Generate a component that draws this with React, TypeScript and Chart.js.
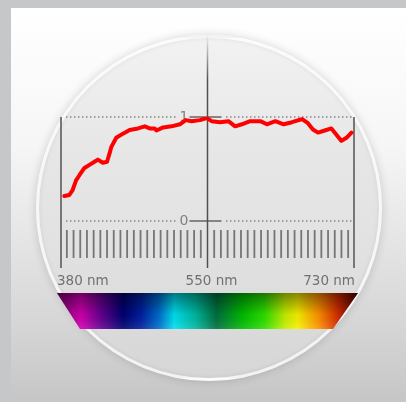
import React, { useEffect, useRef } from "react";
import { Chart, registerables } from "chart.js";

Chart.register(...registerables);

// wavelength (nm) and relative intensity
const wavelengths = [384, 390, 394, 398, 402, 408, 414, 420, 424, 430, 435, 438, 440, 446, 454, 462, 472, 480, 486, 492, 494, 502, 512, 522, 529, 536, 546, 554, 560, 570, 580, 588, 596, 606, 618, 626, 636, 646, 656, 668, 675, 681, 687, 695, 703, 709, 715, 721, 727];
const intensities = [0.24, 0.25, 0.3, 0.39, 0.44, 0.51, 0.54, 0.57, 0.59, 0.56, 0.57, 0.65, 0.71, 0.8, 0.84, 0.875, 0.89, 0.91, 0.89, 0.89, 0.87, 0.9, 0.91, 0.93, 0.97, 0.96, 0.97, 0.99, 0.96, 0.95, 0.96, 0.91, 0.93, 0.96, 0.96, 0.93, 0.96, 0.93, 0.95, 0.98, 0.94, 0.88, 0.85, 0.87, 0.89, 0.83, 0.77, 0.8, 0.85];
const xTickLabels = ["380 nm", "550 nm", "730 nm"];
const yTickValues = [0, 1];
const yTickLabels = ["0", "1"];
const scaleTickStep = 8;
const spectrumStops: [number, string][] = [
  [0, "#7a0070"], [0.08, "#d000b0"], [0.15, "#600090"], [0.22, "#000070"], [0.28, "#0020a0"],
  [0.34, "#0070d0"], [0.39, "#00e0f0"], [0.46, "#00b8a0"], [0.53, "#007040"], [0.62, "#00c000"],
  [0.69, "#30e000"], [0.76, "#c8f000"], [0.8, "#f8f000"], [0.87, "#ff9000"], [0.93, "#d83000"], [1, "#500000"],
];

const decorPlugin = {
  id: "decor",
  beforeDatasetsDraw(chart: any) {
    const { ctx, chartArea, scales } = chart;
    const xs = scales.x, ys = scales.y;
    const L = chartArea.left, R = chartArea.right, B = chartArea.bottom;
    const cx = xs.getPixelForValue((xs.min + xs.max) / 2);
    ctx.save();
    // spectrum bar
    const top = B + 25, bot = B + 61;
    const g = ctx.createLinearGradient(L - 4, 0, R + 4, 0);
    spectrumStops.forEach(([o, c]) => g.addColorStop(o, c));
    ctx.beginPath();
    ctx.moveTo(L - 4, top); ctx.lineTo(R + 4, top); ctx.lineTo(R - 21, bot); ctx.lineTo(L + 19, bot); ctx.closePath();
    ctx.fillStyle = g; ctx.fill();
    const vg = ctx.createLinearGradient(0, top, 0, bot);
    vg.addColorStop(0, "rgba(0,0,0,0.45)"); vg.addColorStop(0.6, "rgba(0,0,0,0.05)"); vg.addColorStop(1, "rgba(255,255,255,0.1)");
    ctx.fillStyle = vg; ctx.fill();
    // dotted lines + labels
    ctx.font = "14px 'DejaVu Sans', sans-serif";
    ctx.textAlign = "right"; ctx.textBaseline = "middle";
    yTickValues.forEach((v, i) => {
      const y = Math.round(ys.getPixelForValue(v));
      ctx.fillStyle = "#888";
      for (let x = L + 5; x <= R - 2; x += 4) {
        if (x > cx - 30 && x < cx + 16) continue;
        ctx.fillRect(x, y - 0.75, 1.5, 1.5);
      }
      ctx.fillStyle = "#808080";
      ctx.fillText(yTickLabels[i], cx - 19, y + 0.5);
      ctx.fillStyle = "#666";
      ctx.fillRect(cx - 18, y - 0.75, 32, 1.5);
    });
    // scale ticks
    ctx.fillStyle = "#757575";
    const mid = (xs.min + xs.max) / 2;
    for (let k = -21; k <= 21; k++) {
      if (k === 0) continue;
      const x = xs.getPixelForValue(mid + k * scaleTickStep);
      ctx.fillRect(x - 0.9, B - 38, 1.8, 28);
    }
    // side axes
    ctx.fillStyle = "#777";
    ctx.fillRect(L - 1, chartArea.top, 2, B - chartArea.top);
    ctx.fillRect(R - 1, chartArea.top, 2, B - chartArea.top);
    // center line
    const cg = ctx.createLinearGradient(0, 35, 0, 80);
    cg.addColorStop(0, "rgba(80,80,80,0)"); cg.addColorStop(1, "rgba(80,80,80,1)");
    ctx.fillStyle = cg;
    ctx.fillRect(cx - 0.75, 35, 1.5, B - 35);
    // x labels
    ctx.fillStyle = "#707070";
    ctx.font = "13.5px 'DejaVu Sans', sans-serif";
    ctx.textBaseline = "middle";
    ctx.textAlign = "left"; ctx.fillText(xTickLabels[0], L - 4, B + 13);
    ctx.textAlign = "center"; ctx.fillText(xTickLabels[1], cx + 4, B + 13);
    ctx.textAlign = "right"; ctx.fillText(xTickLabels[2], R + 1, B + 13);
    ctx.restore();
  },
};

export default function App() {
  const ref = useRef<HTMLCanvasElement>(null);
  useEffect(() => {
    const chart = new Chart(ref.current!, {
      type: "line",
      data: {
        datasets: [{
          data: wavelengths.map((w, i) => ({ x: w, y: intensities[i] })),
          borderColor: "#ff0000",
          borderWidth: 4,
          pointRadius: 0,
          tension: 0,
          borderJoinStyle: "round",
          borderCapStyle: "round",
        }],
      },
      options: {
        animation: false,
        responsive: false,
        layout: { padding: { left: 61, top: 117, right: 52, bottom: 134 } },
        scales: {
          x: { type: "linear", min: 380, max: 730, display: false },
          y: { min: -0.452, max: 1, display: false },
        },
        plugins: { legend: { display: false }, tooltip: { enabled: false } },
      },
      plugins: [decorPlugin],
    });
    return () => chart.destroy();
  }, []);
  return (
    <div style={{ position: "fixed", left: 0, top: 0, width: 406, height: 402, background: "#c6c7c9", overflow: "hidden" }}>
      <div style={{ position: "absolute", left: 11, top: 8, width: 395, height: 394, background: "linear-gradient(180deg,#ffffff 0%,#f6f6f6 35%,#d6d6d6 80%,#c6c6c6 100%)" }} />
      <div style={{ position: "absolute", left: 36, top: 35, width: 346, height: 346, borderRadius: "50%", boxSizing: "border-box", border: "3px solid rgba(255,255,255,0.7)", boxShadow: "0 0 10px rgba(0,0,0,0.16), inset 0 0 5px rgba(0,0,0,0.08)", background: "linear-gradient(180deg,#f2f2f2 0%,#e6e6e6 35%,#e2e2e2 60%,#d6d6d6 100%)" }} />
      <canvas ref={ref} width={406} height={402} style={{ position: "absolute", left: 0, top: 0, width: 406, height: 402 }} />
    </div>
  );
}
